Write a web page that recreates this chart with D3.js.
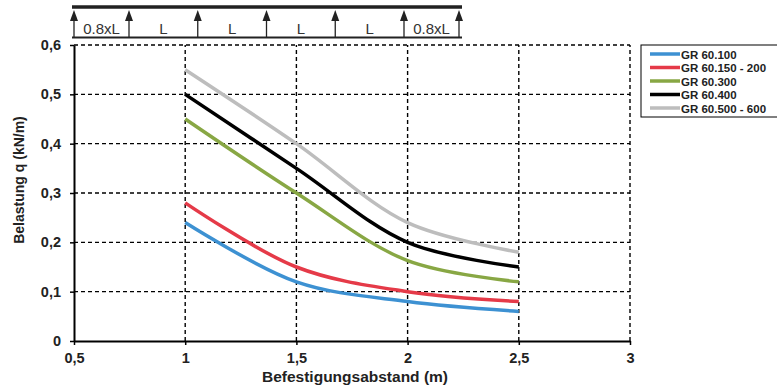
<!DOCTYPE html>
<html><head><meta charset="utf-8">
<script src="https://cdn.jsdelivr.net/npm/d3@7"></script>
<style>body{margin:0;background:#fff}svg{display:block;font-family:"Liberation Sans",Arial,sans-serif}</style>
</head><body><svg id="c" width="777" height="387"></svg>
<script>
const xValues = [1, 1.5, 2, 2.5];
const seriesNames = ["GR 60.100", "GR 60.150 - 200", "GR 60.300", "GR 60.400", "GR 60.500 - 600"];
const seriesColors = ["#3d91d2", "#e53a48", "#88a744", "#000000", "#bdbdbd"];
const s100 = [0.24, 0.12, 0.08, 0.06];
const s150 = [0.28, 0.15, 0.10, 0.08];
const s300 = [0.45, 0.30, 0.163, 0.12];
const s400 = [0.50, 0.35, 0.20, 0.15];
const s500 = [0.55, 0.40, 0.24, 0.18];
const seriesValues = [s100, s150, s300, s400, s500];
const xTicks = [0.5, 1, 1.5, 2, 2.5, 3];
const yTicks = [0, 0.1, 0.2, 0.3, 0.4, 0.5, 0.6];
const spanLabels = ["0.8xL", "L", "L", "L", "L", "0.8xL"];
const spanLengths = [0.8, 1, 1, 1, 1, 0.8];

const svg = d3.select("#c");
const x = d3.scaleLinear().domain([0.5, 3]).range([74, 630]);
const y = d3.scaleLinear().domain([0, 0.6]).range([341, 45]);
const fmt = d => String(d).replace(".", ",");

// grid
svg.append("g").selectAll("line").data(yTicks.filter(d => d > 0)).join("line")
  .attr("x1", x(0.5)).attr("x2", x(3)).attr("y1", d => y(d)).attr("y2", d => y(d))
  .attr("stroke", "#000").attr("stroke-width", 1.4).attr("stroke-dasharray", "4,3");
svg.append("g").selectAll("line").data(xTicks.filter(d => d > 0.5)).join("line")
  .attr("y1", y(0)).attr("y2", y(0.6)).attr("x1", d => x(d)).attr("x2", d => x(d))
  .attr("stroke", "#000").attr("stroke-width", 1.4).attr("stroke-dasharray", "4,3");

// axes
const xa = svg.append("g").attr("transform", `translate(0,${y(0)})`)
  .call(d3.axisBottom(x).tickValues(xTicks).tickFormat(fmt).tickSize(4).tickSizeOuter(0));
const ya = svg.append("g").attr("transform", `translate(${x(0.5)},0)`)
  .call(d3.axisLeft(y).tickValues(yTicks).tickFormat(fmt).tickSize(4).tickSizeOuter(0));
[xa, ya].forEach(a => {
  a.select(".domain").attr("stroke", "#000").attr("stroke-width", 2);
  a.selectAll(".tick line").attr("stroke", "#000").attr("stroke-width", 1.5);
  a.selectAll("text").attr("fill", "#222").attr("font-size", 14.5).attr("font-weight", "bold")
    .attr("font-family", "Liberation Sans, Arial, sans-serif");
});
xa.selectAll("text").attr("y", 8).attr("dy", "0.95em");
ya.selectAll("text").attr("x", -13);

svg.append("text").attr("x", 355).attr("y", 382).attr("text-anchor", "middle")
  .attr("font-size", 14.5).attr("font-weight", "bold").attr("fill", "#222")
  .attr("textLength", 186).attr("lengthAdjust", "spacingAndGlyphs").text("Befestigungsabstand (m)");
svg.append("text").attr("transform", `translate(24,${(y(0)+y(0.6))/2 - 13}) rotate(-90)`)
  .attr("text-anchor", "middle").attr("font-size", 14).attr("font-weight", "bold").attr("fill", "#222")
  .text("Belastung q (kN/m)");

// series
const line = d3.line().x((d, i) => x(xValues[i])).y(d => y(d)).curve(d3.curveCatmullRom.alpha(0.5));
svg.append("g").selectAll("path").data(seriesValues).join("path")
  .attr("d", d => line(d)).attr("fill", "none")
  .attr("stroke", (d, i) => seriesColors[i]).attr("stroke-width", 3.5);

// legend
const lg = svg.append("g");
lg.append("rect").attr("x", 641).attr("y", 45).attr("width", 140).attr("height", 72)
  .attr("fill", "#fff").attr("stroke", "#000").attr("stroke-width", 1);
seriesNames.forEach((n, i) => {
  const ly = 54 + i * 13.5;
  lg.append("line").attr("x1", 650).attr("x2", 680).attr("y1", ly).attr("y2", ly)
    .attr("stroke", seriesColors[i]).attr("stroke-width", 3.5);
  lg.append("text").attr("x", 681).attr("y", ly + 4.5).attr("font-size", 11.5).attr("font-weight", "bold")
    .attr("fill", "#222").text(n);
});

// beam diagram
const total = d3.sum(spanLengths);
const bx = d3.scaleLinear().domain([0, total]).range([74, 459]);
const beam = svg.append("g");
beam.append("line").attr("x1", 72).attr("x2", 462).attr("y1", 7).attr("y2", 7)
  .attr("stroke", "#222").attr("stroke-width", 3.5);
beam.append("line").attr("x1", 72).attr("x2", 462).attr("y1", 37.5).attr("y2", 37.5)
  .attr("stroke", "#222").attr("stroke-width", 2);
const cum = [0]; spanLengths.forEach(s => cum.push(cum[cum.length-1] + s));
cum.forEach(c => {
  const ax = bx(c);
  beam.append("line").attr("x1", ax).attr("x2", ax).attr("y1", 37).attr("y2", 18)
    .attr("stroke", "#222").attr("stroke-width", 1.3);
  beam.append("path").attr("d", `M${ax-4},21 L${ax},10 L${ax+4},21 Z`).attr("fill", "#222");
});
spanLabels.forEach((t, i) => {
  beam.append("text").attr("x", (bx(cum[i]) + bx(cum[i+1])) / 2).attr("y", 34)
    .attr("text-anchor", "middle").attr("font-size", 15).attr("fill", "#333").text(t);
});
</script></body></html>
